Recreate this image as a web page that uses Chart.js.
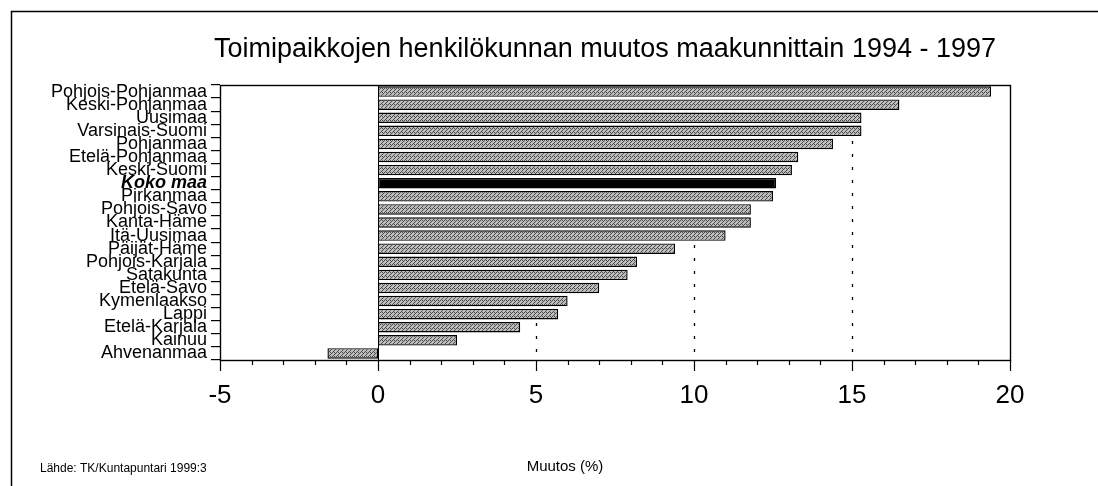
<!DOCTYPE html>
<html>
<head>
<meta charset="utf-8">
<script src="https://cdn.jsdelivr.net/npm/chart.js@4.4.0/dist/chart.umd.min.js"></script>
<style>
  html, body { margin: 0; padding: 0; background: #fff; }
  #wrap { width: 1098px; height: 486px; position: relative; }
</style>
</head>
<body>
<div id="wrap"><canvas id="c" width="1098" height="486"></canvas></div>
<script>
const titleText = 'Toimipaikkojen henkilökunnan muutos maakunnittain 1994 - 1997';
const axisTitle = 'Muutos (%)';
const sourceText = 'Lähde: TK/Kuntapuntari 1999:3';
const categories = ['Pohjois-Pohjanmaa','Keski-Pohjanmaa','Uusimaa','Varsinais-Suomi','Pohjanmaa','Etelä-Pohjanmaa','Keski-Suomi','Koko maa','Pirkanmaa','Pohjois-Savo','Kanta-Häme','Itä-Uusimaa','Päijät-Häme','Pohjois-Karjala','Satakunta','Etelä-Savo','Kymenlaakso','Lappi','Etelä-Karjala','Kainuu','Ahvenanmaa'];
const changes = [19.4,16.5,15.3,15.3,14.4,13.3,13.1,12.6,12.5,11.8,11.8,11.0,9.4,8.2,7.9,7.0,6.0,5.7,4.5,2.5,-1.6];
const highlight = 'Koko maa';
const xMin = -5, xMax = 20, majorStep = 5, minorStep = 1;
const gridValues = [5, 10, 15];

// stippled grey pattern
function makePattern() {
  const p = document.createElement('canvas');
  p.width = 4; p.height = 4;
  const g = p.getContext('2d');
  g.fillStyle = '#bdbdbd'; g.fillRect(0,0,4,4);
  g.fillStyle = '#4a4a4a';
  g.fillRect(0,0,1,1); g.fillRect(2,2,1,1); g.fillRect(2,0,1,1); g.fillRect(1,3,1,1); g.fillRect(3,1,1,1);
  return document.getElementById('c').getContext('2d').createPattern(p, 'repeat');
}
const pat = makePattern();
const FAM = '"Liberation Sans", Arial, sans-serif';

const decor = {
  id: 'decor',
  beforeDatasetsDraw(chart) {
    const ctx = chart.ctx, a = chart.chartArea, xs = chart.scales.x;
    ctx.save();
    ctx.strokeStyle = '#000';
    ctx.lineWidth = 1.3;
    ctx.setLineDash([3, 10]);
    gridValues.forEach(v => {
      const x = Math.round(xs.getPixelForValue(v)) + 0.5;
      ctx.beginPath(); ctx.moveTo(x, a.top + 4); ctx.lineTo(x, a.bottom); ctx.stroke();
    });
    ctx.setLineDash([]);
    ctx.lineWidth = 1;
    const x0 = Math.round(xs.getPixelForValue(0)) + 0.5;
    ctx.beginPath(); ctx.moveTo(x0, a.top); ctx.lineTo(x0, a.bottom); ctx.stroke();
    ctx.restore();
  },
  afterDraw(chart) {
    const ctx = chart.ctx, a = chart.chartArea, xs = chart.scales.x;
    ctx.save();
    ctx.strokeStyle = '#000';
    ctx.lineWidth = 1.4;
    ctx.strokeRect(a.left + 0.5, a.top + 0.5, a.right - a.left, a.bottom - a.top);
    ctx.lineWidth = 1.2;
    for (let v = xMin; v <= xMax; v += minorStep) {
      const x = Math.round(xs.getPixelForValue(v)) + 0.5;
      const len = (v % majorStep === 0) ? 11 : 5;
      ctx.beginPath(); ctx.moveTo(x, a.bottom); ctx.lineTo(x, a.bottom + len); ctx.stroke();
    }
    ctx.lineWidth = 1.5;
    ctx.beginPath(); ctx.moveTo(11.5, 486); ctx.lineTo(11.5, 11.5); ctx.lineTo(1098, 11.5); ctx.stroke();
    ctx.fillStyle = '#000';
    ctx.textBaseline = 'middle';
    ctx.textAlign = 'center';
    ctx.font = '27px ' + FAM;
    ctx.fillText(titleText, 605, 50);
    ctx.font = '15px ' + FAM;
    ctx.fillText(axisTitle, 565, 467);
    ctx.textAlign = 'left';
    ctx.font = '12px ' + FAM;
    ctx.fillText(sourceText, 40, 469);
    ctx.restore();
  }
};

new Chart(document.getElementById('c'), {
  type: 'bar',
  data: {
    labels: categories,
    datasets: [{
      data: changes,
      backgroundColor: categories.map(c => c === highlight ? '#000' : pat),
      borderColor: '#000',
      borderWidth: 1.4,
      borderSkipped: false,
      barPercentage: 0.8,
      categoryPercentage: 1.0
    }]
  },
  options: {
    indexAxis: 'y',
    responsive: false,
    animation: false,
    devicePixelRatio: 1,
    layout: { padding: { left: 0, top: 85, right: 88, bottom: 0 } },
    plugins: { legend: { display: false }, tooltip: { enabled: false }, title: { display: false } },
    scales: {
      x: {
        type: 'linear', min: xMin, max: xMax,
        afterFit(s) { s.height = 126; },
        grid: { display: false, drawTicks: false },
        border: { display: false },
        ticks: {
          stepSize: minorStep, autoSkip: false, maxRotation: 0, padding: 20,
          color: '#000',
          font: { family: FAM, size: 26 },
          callback: v => (v % majorStep === 0 ? String(v) : '')
        }
      },
      y: {
        afterFit(s) { s.width = 220; },
        grid: { drawOnChartArea: false, drawTicks: true, tickLength: 9, color: '#000', lineWidth: 1.2 },
        border: { display: false },
        ticks: {
          autoSkip: false, padding: 4, color: '#000',
          font: ctx => ctx.tick && ctx.tick.label === highlight
            ? { family: FAM, size: 18, weight: 'bold', style: 'italic', lineHeight: 1 }
            : { family: FAM, size: 18, lineHeight: 1 }
        }
      }
    }
  },
  plugins: [decor]
});
</script>
</body>
</html>
